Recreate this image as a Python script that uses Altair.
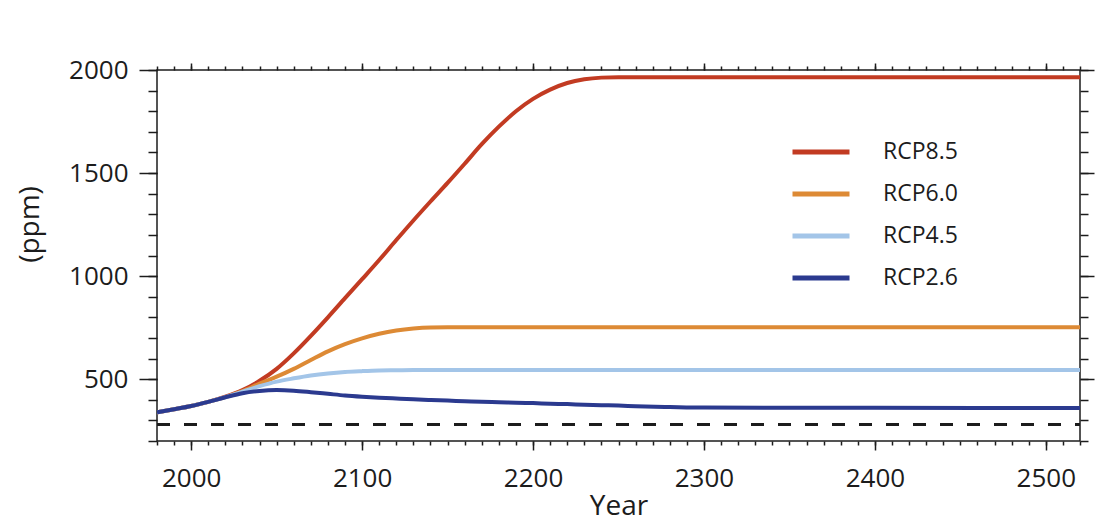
import altair as alt
import pandas as pd

# ---- data ----
years = [1980, 1990, 2000, 2010, 2020, 2030, 2040, 2050, 2060, 2070, 2080, 2090,
         2100, 2110, 2120, 2130, 2140, 2150, 2160, 2170, 2180, 2190, 2200, 2210,
         2220, 2230, 2240, 2250, 2260, 2280, 2300, 2400, 2520]

rcp85 = [339, 354, 370, 390, 415, 447, 492, 550, 625, 710, 800, 893,
         985, 1078, 1175, 1270, 1362, 1452, 1545, 1640, 1725, 1800, 1860, 1905,
         1937, 1955, 1963, 1965, 1965, 1965, 1965, 1965, 1965]
rcp60 = [339, 354, 370, 390, 413, 442, 478, 512, 550, 593, 635, 670,
         698, 720, 736, 746, 751, 752, 752, 752, 752, 752, 752, 752,
         752, 752, 752, 752, 752, 752, 752, 752, 752]
rcp45 = [339, 354, 370, 390, 413, 440, 466, 488, 504, 518, 528, 535,
         539, 542, 543, 544, 544, 544, 544, 544, 544, 544, 544, 544,
         544, 544, 544, 544, 544, 544, 544, 544, 544]
rcp26 = [339, 354, 370, 390, 412, 432, 443, 447, 444, 437, 429, 421,
         415, 410, 406, 402, 399, 396, 393, 390, 388, 386, 384, 381,
         379, 376, 374, 372, 369, 365, 362, 361, 360]

scenarios = ["RCP8.5", "RCP6.0", "RCP4.5", "RCP2.6"]
colors = ["#c23b22", "#dd8a35", "#a3c5e8", "#2b3a8f"]

baseline_years = [1980, 2520]
baseline_ppm = [280, 280]

major_years = [2000, 2100, 2200, 2300, 2400, 2500]
minor_years = list(range(1980, 2521, 10))
major_ppm = [500, 1000, 1500, 2000]
minor_ppm = list(range(200, 2001, 100))

rows = []
for name, vals in zip(scenarios, [rcp85, rcp60, rcp45, rcp26]):
    for yr, v in zip(years, vals):
        rows.append({"year": yr, "ppm": v, "scenario": name})
df = pd.DataFrame(rows)
base_df = pd.DataFrame({"year": baseline_years, "ppm": baseline_ppm})

FONT = "Open Sans"
INK = "#1c1c1c"

xs = alt.Scale(domain=[1980, 2520], nice=False, zero=False)
ys = alt.Scale(domain=[200, 2000], nice=False, zero=False)


def ax(orient, values, size, labels=False, **kw):
    return alt.Axis(orient=orient, values=values, tickSize=size, tickWidth=1.5,
                    tickColor=INK, domain=False, grid=False, labels=labels,
                    title=kw.pop("title", None), **kw)


# dashed pre-industrial line, carrying the labelled axes
dashed = alt.Chart(base_df).mark_line(
    color=INK, strokeWidth=3, strokeDash=[13, 14], clip=True
).encode(
    x=alt.X("year:Q", scale=xs, axis=ax(
        "bottom", major_years, 9, labels=True, format="d",
        labelFont=FONT, labelFontSize=26, labelColor=INK, labelPadding=15,
        labelBaseline="top",
        title="Year", titleFont=FONT, titleFontSize=28, titleFontWeight="normal",
        titleColor=INK, titleY=73, titleBaseline="alphabetic")),
    y=alt.Y("ppm:Q", scale=ys, axis=ax(
        "left", major_ppm, 18, labels=True, format="d",
        labelFont=FONT, labelFontSize=26, labelColor=INK, labelPadding=11,
        title="(ppm)", titleFont=FONT, titleFontSize=28, titleFontWeight="normal",
        titleColor=INK, titleAngle=270, titleX=-127, titleY=154,
        titleAlign="center", titleBaseline="middle")),
)

lines = alt.Chart(df).mark_line(strokeWidth=4, interpolate="monotone", clip=True).encode(
    x=alt.X("year:Q", scale=xs, axis=ax("bottom", minor_years, 4)),
    y=alt.Y("ppm:Q", scale=ys, axis=ax("left", minor_ppm, 9)),
    color=alt.Color("scenario:N", sort=scenarios,
                    scale=alt.Scale(domain=scenarios, range=colors),
                    legend=alt.Legend(
                        orient="none", legendX=652, legendY=70, title=None,
                        symbolType="M-3,0H3", symbolSize=361, symbolStrokeWidth=5,
                        labelFont=FONT, labelFontSize=23, labelColor=INK,
                        labelOffset=50, rowPadding=18, padding=0)),
    order=alt.Order("scenario:N"),
)

top_right_major = alt.Chart(base_df).mark_line(opacity=0).encode(
    x=alt.X("year:Q", scale=xs, axis=ax("top", major_years, 7)),
    y=alt.Y("ppm:Q", scale=ys, axis=ax("right", major_ppm, 14)),
)
top_right_minor = alt.Chart(base_df).mark_line(opacity=0).encode(
    x=alt.X("year:Q", scale=xs, axis=ax("top", minor_years, 4)),
    y=alt.Y("ppm:Q", scale=ys, axis=ax("right", minor_ppm, 8)),
)

chart = alt.layer(dashed, lines, top_right_major, top_right_minor).resolve_axis(
    x="independent", y="independent"
).properties(
    width=923, height=371,
    autosize=alt.AutoSizeParams(type="none"),
    padding={"left": 149, "top": 62, "right": 16, "bottom": 81},
).configure_view(stroke=INK, strokeWidth=1.5)

chart.save("out.html", embed_options={"renderer": "svg", "actions": False})
